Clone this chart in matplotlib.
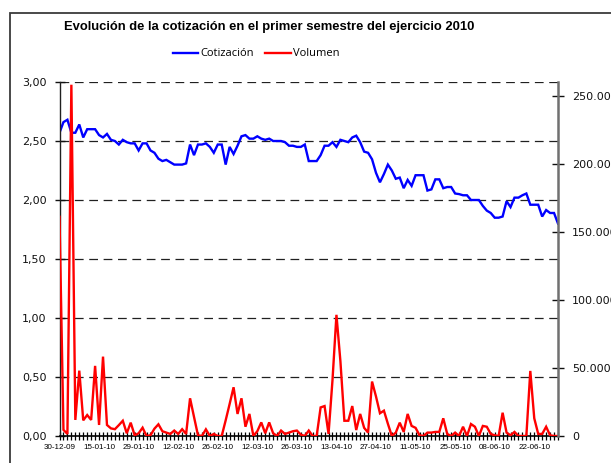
import matplotlib
matplotlib.use("Agg")
import matplotlib.pyplot as plt
import numpy as np
import pandas as pd
from matplotlib.lines import Line2D
from matplotlib.patches import Rectangle
from matplotlib.ticker import FuncFormatter, MultipleLocator

# ---------------- data ----------------
holidays = ["2010-01-01", "2010-01-06", "2010-04-02", "2010-04-05"]
dates = [d for d in pd.bdate_range("2009-12-30", "2010-06-30")
         if d.strftime("%Y-%m-%d") not in holidays]

cotizacion = [
    2.57, 2.66, 2.68, 2.57, 2.57, 2.64, 2.53, 2.60, 2.60, 2.60,
    2.55, 2.53, 2.56, 2.51, 2.50, 2.47, 2.51, 2.49, 2.48, 2.48,
    2.42, 2.48, 2.48, 2.42, 2.40, 2.35, 2.33, 2.34, 2.32, 2.30,
    2.30, 2.30, 2.31, 2.47, 2.38, 2.47, 2.47, 2.48, 2.45, 2.40,
    2.47, 2.47, 2.30, 2.45, 2.39, 2.46, 2.54, 2.55, 2.52, 2.52,
    2.54, 2.52, 2.51, 2.52, 2.50, 2.50, 2.50, 2.49, 2.46, 2.46,
    2.45, 2.45, 2.47, 2.33, 2.33, 2.33, 2.38, 2.46, 2.46, 2.49,
    2.45, 2.51, 2.50, 2.49, 2.53, 2.545, 2.49, 2.41, 2.40, 2.345,
    2.23, 2.15, 2.22, 2.30, 2.25, 2.18, 2.19, 2.10, 2.17, 2.12,
    2.21, 2.21, 2.21, 2.08, 2.09, 2.175, 2.175, 2.10, 2.11, 2.11,
    2.055, 2.05, 2.04, 2.04, 2.00, 2.00, 2.00, 1.95, 1.91, 1.89,
    1.85, 1.85, 1.86, 1.99, 1.94, 2.02, 2.02, 2.04, 2.055, 1.96,
    1.96, 1.96, 1.86, 1.915, 1.89, 1.89, 1.80,
]

volumen = [
    161000, 4500, 1500, 258000, 11800, 48000, 11500, 15400, 11800, 51500,
    8100, 58300, 8100, 5600, 5000, 8000, 11200, 2000, 9800, 500,
    2000, 6100, 0, 500, 5400, 8600, 3500, 2500, 1500, 4000,
    1500, 5000, 1500, 27700, 14000, 500, 0, 4900, 0, 1500,
    0, 0, 11500, 23500, 35800, 16200, 27700, 6800, 16200, 0,
    3500, 10000, 2000, 10000, 2000, 0, 4000, 1500, 2500, 3500,
    4000, 1000, 0, 4000, 0, 0, 21000, 22000, 1500, 41000,
    89000, 55000, 11200, 11200, 22000, 4400, 16200, 6000, 2500, 40000,
    29000, 16700, 18600, 9000, 0, 2500, 9800, 3000, 16200, 7400,
    6000, 500, 0, 2500, 2500, 3000, 3000, 13000, 1500, 0,
    2500, 0, 6800, 0, 8800, 6800, 0, 7400, 6800, 1500,
    500, 0, 17100, 2500, 500, 3000, 0, 0, 0, 47800,
    13000, 1500, 1500, 6800, 500, 0, 0,
]

date_labels = [d.strftime("%d-%m-%y") for d in dates]
title = "Evolución de la cotización en el primer semestre del ejercicio 2010"
series_names = ["Cotización", "Volumen"]

# ---------------- figure ----------------
W, H = 611, 463
fig = plt.figure(figsize=(W / 100, H / 100), dpi=100)
fig.patch.set_facecolor("white")

# outer chart frame
fig.patches.append(Rectangle((10 / W, -0.1), 1.2, 1 - 13 / H + 0.1,
                             transform=fig.transFigure, fill=False,
                             edgecolor="#3a3a3a", linewidth=1.3))

ax = fig.add_axes([59.5 / W, 1 - 436 / H, (558 - 59.5) / W, (436 - 82) / H])
ax2 = ax.twinx()

x = np.arange(len(dates))
ax.plot(x, cotizacion, color="#0000FF", lw=1.7, solid_joinstyle="miter")
ax2.plot(x, volumen, color="#FF0000", lw=1.7, solid_joinstyle="miter")

ax.set_xlim(0, len(dates) - 1)
ax.set_ylim(0, 3.0)
ax2.set_ylim(0, 260000)

# gridlines
for v in np.arange(0.5, 3.01, 0.5):
    ax.axhline(v, color="#202020", lw=0.9, dashes=(7, 4.5), zorder=0)

ax.yaxis.set_major_locator(MultipleLocator(0.5))
ax.yaxis.set_major_formatter(FuncFormatter(lambda v, p: f"{v:.2f}".replace(".", ",")))
ax2.yaxis.set_major_locator(MultipleLocator(50000))
ax2.yaxis.set_major_formatter(FuncFormatter(lambda v, p: f"{int(v):,}".replace(",", ".")))

ax.set_xticks(x[::10])
ax.set_xticklabels(date_labels[::10])
ax.set_xticks(x, minor=True)

ax.spines["top"].set_visible(False)
ax2.spines["top"].set_visible(False)
ax.spines["right"].set_visible(False)
ax2.spines["left"].set_visible(False)
ax2.spines["bottom"].set_visible(False)
ax.spines["left"].set_color("#202020")
ax.spines["left"].set_linewidth(1.0)
ax.spines["bottom"].set_color("black")
ax.spines["bottom"].set_linewidth(1.2)
ax2.spines["right"].set_color("#707070")
ax2.spines["right"].set_linewidth(1.8)

ax.tick_params(axis="y", direction="inout", length=7, width=1.0, pad=6,
               labelsize=8, colors="#111111")
ax2.tick_params(axis="y", direction="inout", length=8, width=1.0, pad=6,
                labelsize=8, colors="#111111")
ax.tick_params(axis="x", which="both", direction="inout", length=6, width=0.9,
               pad=3)
ax.tick_params(axis="x", which="major", labelsize=5.8)
for lab in ax.get_xticklabels():
    lab.set_family("Liberation Sans")

fig.text(269 / W, 1 - 27 / H, title, ha="center", va="center",
         fontsize=9.4, fontweight="bold", family="Liberation Sans")

handles = [Line2D([], [], color="#0000FF", lw=1.7),
           Line2D([], [], color="#FF0000", lw=1.7)]
fig.legend(handles, series_names, loc="center", ncol=2,
           bbox_to_anchor=(256 / W, 1 - 54 / H), frameon=False,
           prop={"family": "Open Sans", "size": 8},
           handlelength=2.3, handletextpad=0.2, columnspacing=1.0)

fig.savefig("out.png", dpi=100)
